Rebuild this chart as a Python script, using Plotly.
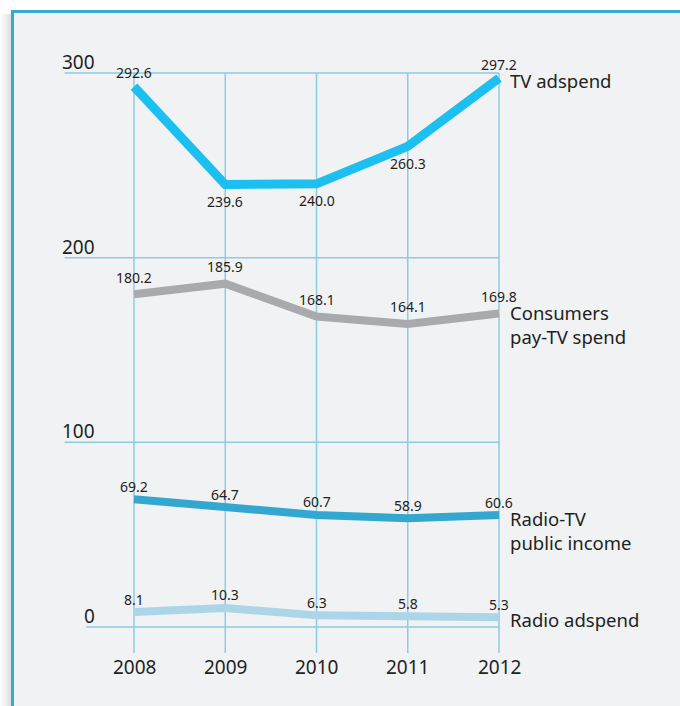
import plotly.graph_objects as go

years = [2008, 2009, 2010, 2011, 2012]
tv_adspend = [292.6, 239.6, 240.0, 260.3, 297.2]
pay_tv_spend = [180.2, 185.9, 168.1, 164.1, 169.8]
public_income = [69.2, 64.7, 60.7, 58.9, 60.6]
radio_adspend = [8.1, 10.3, 6.3, 5.8, 5.3]
y_ticks = [0, 100, 200, 300]
y_tick_labels = ["0", "100", "200", "300"]

series = [
    dict(name="TV adspend", label="TV adspend", values=tv_adspend,
         color="#1cc0f0", width=9, up=14, down=-17,
         pos=["a", "b", "b", "b", "a"], lab_shift=-2),
    dict(name="Consumers pay-TV spend", label="Consumers<br>pay-TV spend", values=pay_tv_spend,
         color="#a8aaad", width=8, up=17, down=-17,
         pos=["a"] * 5, lab_shift=-11),
    dict(name="Radio-TV public income", label="Radio-TV<br>public income", values=public_income,
         color="#34a7d1", width=8, up=13, down=-17,
         pos=["a"] * 5, lab_shift=-15),
    dict(name="Radio adspend", label="Radio adspend", values=radio_adspend,
         color="#acd6e8", width=8, up=13, down=-17,
         pos=["a"] * 5, lab_shift=-2),
]

W, H = 680, 706
# pixel mapping
x0_px, dx_px = 134, 91.25
y0_px, dy_px = 627, 554 / 300
x_range = [2008 - x0_px / dx_px, 2008 + (W - x0_px) / dx_px]
y_range = [-(H - y0_px) / dy_px, y0_px / dy_px]

def px_to_x(px):
    return 2008 + (px - x0_px) / dx_px

def py_to_y(py):
    return (y0_px - py) / dy_px

fig = go.Figure()
text_color = "#231f20"
font_family = "Noto Sans"
grid_color = "#8ecbe3"

shapes = []
# shadow on left of frame
for i in range(11):
    shapes.append(dict(type="rect", xref="paper", yref="paper",
                       x0=(i) / W, x1=(i + 1) / W, y0=0, y1=1 - 14 / H,
                       fillcolor="rgba(120,120,120,%.3f)" % (0.02 + 0.025 * i ** 1.25 / 2),
                       line=dict(width=0), layer="below"))
# frame
shapes.append(dict(type="rect", xref="paper", yref="paper",
                   x0=12.5 / W, x1=1.05, y0=-0.05, y1=1 - 11.5 / H,
                   fillcolor="#f0f2f4", line=dict(color="#38a9d5", width=3), layer="below"))

# horizontal gridlines
for v, lab in zip(y_ticks, y_tick_labels):
    start_px = 97 - 10.8 * len(lab)
    shapes.append(dict(type="line", xref="x", yref="y",
                       x0=px_to_x(start_px), x1=years[-1], y0=v, y1=v,
                       line=dict(color=grid_color, width=1.5), layer="below"))
# vertical gridlines
for yr in years:
    shapes.append(dict(type="line", xref="x", yref="y",
                       x0=yr, x1=yr, y0=max(y_ticks), y1=py_to_y(653),
                       line=dict(color=grid_color, width=1.5), layer="below"))

annotations = []
for v, lab in zip(y_ticks, y_tick_labels):
    annotations.append(dict(x=px_to_x(97), y=v, xref="x", yref="y", text=lab,
                            showarrow=False, xanchor="right", yanchor="middle", yshift=11,
                            font=dict(size=19, color=text_color, family=font_family)))
for yr in years:
    annotations.append(dict(x=yr, y=py_to_y(667), xref="x", yref="y", text=str(yr),
                            showarrow=False, xanchor="center", yanchor="middle",
                            font=dict(size=19, color=text_color, family=font_family)))

for s in series:
    fig.add_trace(go.Scatter(x=years, y=s["values"], mode="lines", name=s["name"],
                             line=dict(color=s["color"], width=s["width"]),
                             hoverinfo="x+y", showlegend=False))
    for yr, v, p in zip(years, s["values"], s["pos"]):
        annotations.append(dict(x=yr, y=v, xref="x", yref="y", text="%.1f" % v,
                                showarrow=False, xanchor="center", yanchor="middle",
                                yshift=s["up"] if p == "a" else s["down"],
                                font=dict(size=14, color=text_color, family=font_family)))
    annotations.append(dict(x=years[-1], y=s["values"][-1], xref="x", yref="y",
                            text=s["label"], showarrow=False, xanchor="left", yanchor="middle",
                            align="left", xshift=9, yshift=s["lab_shift"],
                            font=dict(size=18.5, color=text_color, family=font_family)))

fig.update_layout(
    width=W, height=H,
    margin=dict(l=0, r=0, t=0, b=0),
    paper_bgcolor="white", plot_bgcolor="rgba(0,0,0,0)",
    xaxis=dict(range=x_range, visible=False, fixedrange=True),
    yaxis=dict(range=y_range, visible=False, fixedrange=True),
    shapes=shapes, annotations=annotations,
    showlegend=False,
)
fig.write_html("out.html", config={"displayModeBar": False},
               post_script="document.body.style.margin='0px';")
